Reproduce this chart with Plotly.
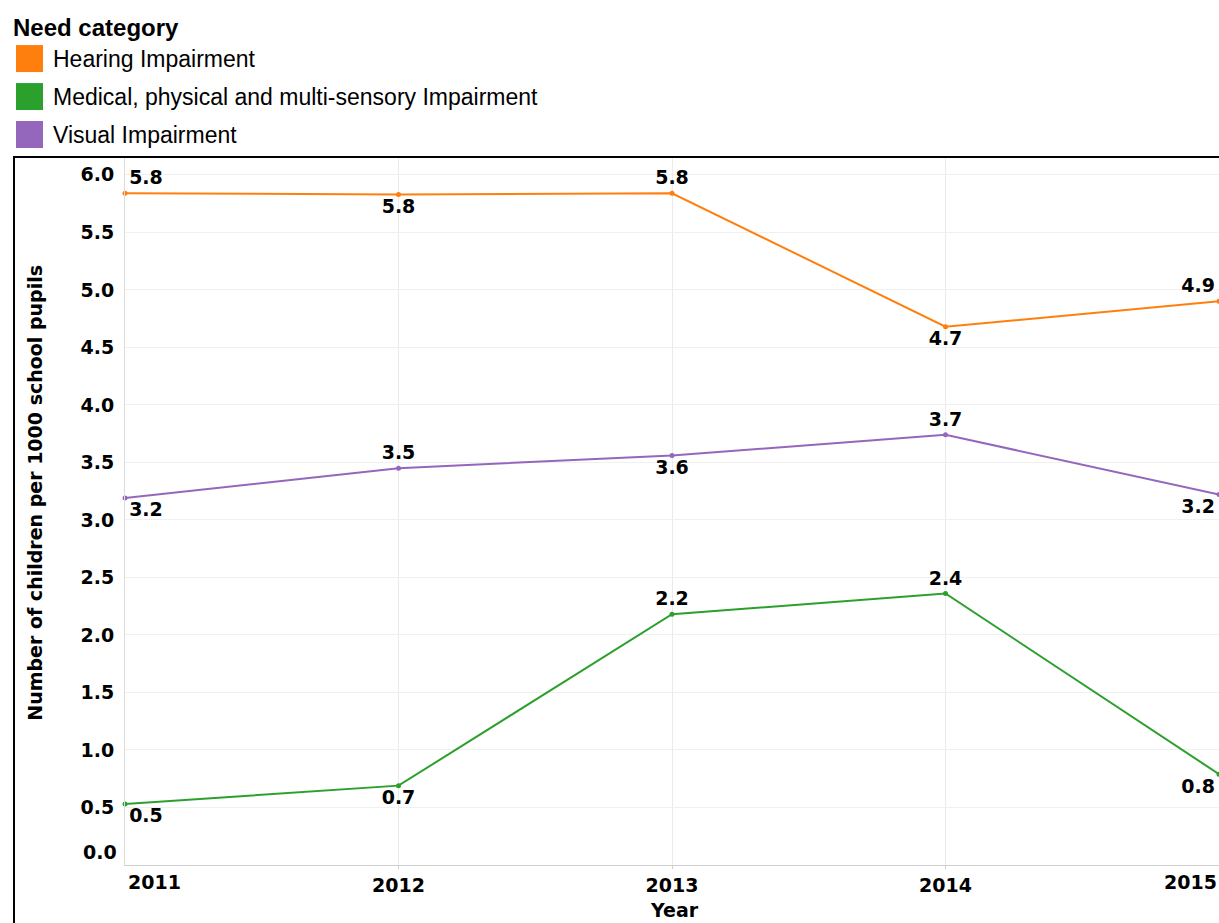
import plotly.graph_objects as go

# ---- data ----
years = [2011, 2012, 2013, 2014, 2015]
categories = ["Hearing Impairment",
              "Medical, physical and multi-sensory Impairment",
              "Visual Impairment"]
hearing = [5.84, 5.83, 5.84, 4.68, 4.90]
medical = [0.53, 0.69, 2.18, 2.36, 0.79]
visual = [3.19, 3.45, 3.56, 3.74, 3.22]
y_ticks = [0.5, 1.0, 1.5, 2.0, 2.5, 3.0, 3.5, 4.0, 4.5, 5.0, 5.5, 6.0]

colors = ["#ff7f0e", "#2ca02c", "#9467bd"]
series = [hearing, medical, visual]
positions = [
    ["top right", "bottom center", "top center", "bottom center", "top left"],
    ["bottom right", "bottom center", "top center", "top center", "bottom left"],
    ["bottom right", "top center", "bottom center", "top center", "bottom left"],
]

W, H = 1219, 923
L, R, T, B = 125, 0, 157, 57.5
PW, PH = W - L - R, H - T - B


def px(x):
    return (x - L) / PW


def py(y):
    return (H - B - y) / PH


SANS = "Liberation Sans, Arial, sans-serif"
WIDE = "DejaVu Sans, sans-serif"
bold19 = dict(family=WIDE, size=19, color="black", weight="bold")

fig = go.Figure()
for name, vals, col, pos in zip(categories, series, colors, positions):
    fig.add_trace(go.Scatter(
        x=years, y=vals, name=name, mode="lines+markers+text",
        line=dict(color=col, width=2), marker=dict(color=col, size=5),
        text=[f"{v:.1f}" for v in vals], textposition=pos,
        textfont=bold19, cliponaxis=False, showlegend=False,
    ))

annotations = []
shapes = []
# legend (manual)
annotations.append(dict(text="<b>Need category</b>", xref="paper", yref="paper",
                        x=px(11), y=py(27), xanchor="left", yanchor="middle",
                        showarrow=False, font=dict(family=SANS, size=24, color="black")))
for i, (name, col) in enumerate(zip(categories, colors)):
    yc = 58.5 + i * 38
    shapes.append(dict(type="rect", xref="paper", yref="paper",
                       x0=px(16), x1=px(43), y0=py(yc - 13.5), y1=py(yc + 13.5),
                       fillcolor=col, line=dict(width=0)))
    annotations.append(dict(text=name, xref="paper", yref="paper",
                            x=px(51), y=py(yc), xanchor="left", yanchor="middle",
                            showarrow=False, font=dict(family=SANS, size=23, color="black")))
# border
shapes.append(dict(type="rect", xref="paper", yref="paper",
                   x0=px(14), x1=px(1400), y0=py(1100), y1=py(157),
                   line=dict(color="black", width=2), fillcolor="rgba(0,0,0,0)"))
# flush end tick labels
annotations.append(dict(text=str(years[0]), xref="x", yref="paper", x=years[0], y=0,
                        xanchor="left", yanchor="middle", yshift=-17, xshift=1,
                        showarrow=False, font=bold19))
annotations.append(dict(text=str(years[-1]), xref="x", yref="paper", x=years[-1], y=0,
                        xanchor="right", yanchor="middle", yshift=-17,
                        showarrow=False, font=bold19))
annotations.append(dict(text="0.0", xref="paper", yref="y", x=0, y=0,
                        xanchor="right", yanchor="middle", xshift=-6, yshift=13,
                        showarrow=False, font=bold19))
# axis titles
annotations.append(dict(text="Year", xref="paper", yref="paper", x=px(674), y=py(911),
                        xanchor="center", yanchor="middle", showarrow=False,
                        font=bold19))
annotations.append(dict(text="Number of children per 1000 school pupils", xref="paper",
                        yref="paper", x=px(35), y=py(493), textangle=-90,
                        xanchor="center", yanchor="middle", showarrow=False,
                        font=bold19))

fig.update_layout(
    width=W, height=H, margin=dict(l=L, r=R, t=T, b=B, pad=0),
    paper_bgcolor="white", plot_bgcolor="white",
    shapes=shapes, annotations=annotations, showlegend=False,
    xaxis=dict(range=[years[0], years[-1]], tickvals=years[1:-1],
               ticktext=[str(y) for y in years[1:-1]],
               showgrid=True, gridcolor="#ebebeb", gridwidth=1,
               showline=True, linecolor="#d0d0d0", linewidth=1,
               ticks="outside", ticklen=3, tickcolor="#d0d0d0",
               tickfont=bold19, zeroline=False, fixedrange=True),
    yaxis=dict(range=[0, 6.155], tickvals=y_ticks,
               ticktext=[f"{v:.1f}" for v in y_ticks],
               showgrid=True, gridcolor="#f0f0f0", gridwidth=1,
               showline=True, linecolor="#dddddd", linewidth=1,
               ticks="", ticklabelstandoff=6,
               tickfont=bold19, zeroline=False, fixedrange=True),
)

fig.write_html("out.html",
               config={"displayModeBar": False},
               post_script="document.body.style.margin='0px';"
                           "document.body.style.overflow='hidden';")
